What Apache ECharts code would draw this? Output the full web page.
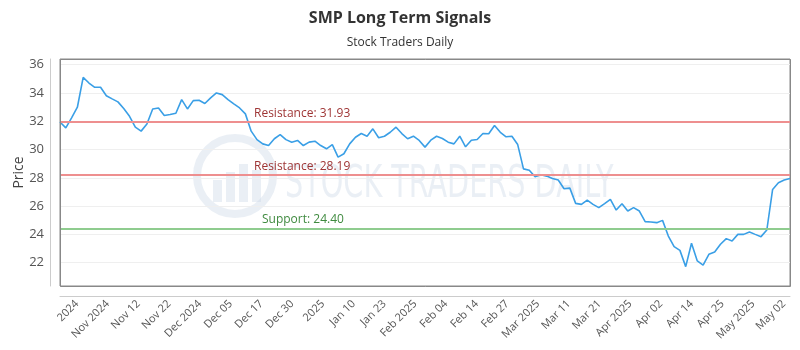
<!DOCTYPE html>
<html>
<head>
<meta charset="utf-8">
<script src="https://cdn.jsdelivr.net/npm/echarts@6/dist/echarts.min.js"></script>
<style>html,body{margin:0;padding:0;background:#fff}#chart{width:800px;height:350px}</style>
</head>
<body>
<div id="chart"></div>
<script>
const chartTitle = 'SMP Long Term Signals';
const chartSubtitle = 'Stock Traders Daily';
const yAxisName = 'Price';

const tickLabels = ['2024','Nov 2024','Nov 12','Nov 22','Dec 2024','Dec 05','Dec 17','Dec 30','2025','Jan 10','Jan 23','Feb 2025','Feb 04','Feb 14','Feb 27','Mar 2025','Mar 11','Mar 21','Apr 2025','Apr 02','Apr 14','Apr 25','May 2025','May 02'];
const yTicks = [22, 24, 26, 28, 30, 32, 34, 36];

const prices = [
  31.95, 31.53, 32.24, 32.99, 35.1, 34.7, 34.4, 34.4, 33.8, 33.58,
  33.37, 32.9, 32.35, 31.58, 31.3, 31.8, 32.87, 32.94, 32.4, 32.47,
  32.56, 33.53, 32.87, 33.46, 33.48, 33.25, 33.65, 34.0, 33.88, 33.53,
  33.23, 32.94, 32.52, 31.3, 30.7, 30.4, 30.28, 30.76, 31.06, 30.7,
  30.52, 30.64, 30.28, 30.52, 30.59, 30.28, 30.05, 30.35, 29.46, 29.7,
  30.4, 30.87, 31.13, 30.94, 31.46, 30.83, 30.94, 31.22, 31.58, 31.13,
  30.76, 30.94, 30.64, 30.17, 30.66, 30.94, 30.78, 30.52, 30.4, 30.94,
  30.19, 30.66, 30.71, 31.13, 31.11, 31.7, 31.22, 30.9, 30.94, 30.35,
  28.63, 28.54, 28.07, 28.21, 28.12, 27.95, 27.84, 27.23, 27.27, 26.19,
  26.12, 26.42, 26.12, 25.89, 26.17, 26.47, 25.72, 26.17, 25.65, 25.89,
  25.65, 24.9, 24.87, 24.83, 24.99, 23.88, 23.13, 22.87, 21.72, 23.37,
  22.12, 21.82, 22.59, 22.75, 23.3, 23.7, 23.53, 24.0, 24.0, 24.17,
  24.0, 23.84, 24.31, 27.18, 27.65, 27.84, 27.95
];
const categories = prices.map((_, i) => 'Day ' + (i + 1));

const resistanceLevels = [31.93, 28.19];
const supportLevels = [24.40];

const Y_MIN = 20.35, Y_MAX = 36.4;

const chart = echarts.init(document.getElementById('chart'), null, {renderer: 'canvas'});

const markData = [
  ...resistanceLevels.map(v => ({
    yAxis: v,
    lineStyle: {color: '#ee8f8f', width: 2, type: 'solid'},
    label: {formatter: 'Resistance: ' + v.toFixed(2), color: '#9e3434', padding: [0, 0, 0, 191]}
  })),
  ...supportLevels.map(v => ({
    yAxis: v,
    lineStyle: {color: '#8fcc8f', width: 2, type: 'solid'},
    label: {formatter: 'Support: ' + v.toFixed(2), color: '#3f8a3f', padding: [0, 0, 0, 199]}
  }))
];

const wm = 'rgba(200,212,228,0.38)';
const option = {
  animation: false,
  backgroundColor: '#fff',
  title: [
    {text: chartTitle, left: 'center', top: 5,
     textStyle: {fontSize: 16, fontWeight: 'bold', color: '#333', fontFamily: 'Open Sans'}},
    {text: chartSubtitle, left: 'center', top: 32,
     textStyle: {fontSize: 12, fontWeight: 'normal', color: '#333', fontFamily: 'Open Sans'}}
  ],
  graphic: [
    {id: 'wm-ring', type: 'circle', z: 0, shape: {cx: 235, cy: 176, r: 38},
     style: {fill: 'none', stroke: wm, lineWidth: 8}},
    {id: 'wm-b1', type: 'rect', z: 0, shape: {x: 213, y: 180, width: 9, height: 22}, style: {fill: wm}},
    {id: 'wm-b2', type: 'rect', z: 0, shape: {x: 226, y: 172, width: 9, height: 30}, style: {fill: wm}},
    {id: 'wm-b3', type: 'rect', z: 0, shape: {x: 239, y: 164, width: 9, height: 38}, style: {fill: wm}},
    {id: 'wm-b4', type: 'rect', z: 0, shape: {x: 252, y: 170, width: 9, height: 32}, style: {fill: wm}},
    {id: 'wm-text', type: 'text', z: 0, x: 285, y: 186, scaleX: 0.725, scaleY: 1,
     style: {text: 'STOCK TRADERS DAILY', x: 0, y: 0,
      fill: wm, font: '44px "DejaVu Sans Condensed"', textVerticalAlign: 'middle'}}
  ],
  grid: {left: 60, right: 10, top: 59, bottom: 64, show: true, borderColor: '#888', borderWidth: 1,
         backgroundColor: 'rgba(255,255,255,0)', containLabel: false, outerBoundsMode: 'none'},
  xAxis: [
    {type: 'category', data: categories, boundaryGap: false,
     axisLine: {show: false}, axisTick: {show: false}, axisLabel: {show: false}, splitLine: {show: false}},
    {type: 'value', position: 'bottom', min: -0.553, max: 23.195, offset: 10,
     axisLine: {show: true, onZero: false, lineStyle: {color: '#ccc'}}, axisTick: {show: false}, splitLine: {show: false},
     axisLabel: {customValues: tickLabels.map((_, i) => i), formatter: v => tickLabels[Math.round(v)] || '',
       rotate: 45, margin: 6, fontSize: 11, color: '#555', fontFamily: 'Open Sans'}}
  ],
  yAxis: {
    type: 'value', min: Y_MIN, max: Y_MAX, offset: 10,
    name: yAxisName, nameLocation: 'middle', nameGap: 24, nameMoveOverlap: false,
    nameTextStyle: {fontSize: 14, color: '#444', fontFamily: 'Open Sans'},
    axisLine: {show: true, onZero: false, lineStyle: {color: '#ccc'}},
    axisTick: {show: false, customValues: yTicks},
    axisLabel: {customValues: yTicks, margin: 6, fontSize: 13, color: '#555', fontFamily: 'Open Sans'},
    splitLine: {show: true, lineStyle: {color: '#efefef'}}
  },
  series: [{
    type: 'line', data: prices, xAxisIndex: 0, yAxisIndex: 0,
    symbol: 'none', smooth: false, z: 3,
    lineStyle: {color: '#3a9fe6', width: 1.6},
    markLine: {
      silent: true, symbol: 'none', animation: false,
      label: {position: 'insideStartTop', distance: 3, fontSize: 12, fontFamily: 'Open Sans'},
      data: markData
    }
  }]
};
chart.setOption(option);

// plot frame, placed from the chart's own axis scales
const tl = chart.convertToPixel({xAxisIndex: 0, yAxisIndex: 0}, [0, Y_MAX]);
const br = chart.convertToPixel({xAxisIndex: 0, yAxisIndex: 0}, [prices.length - 1, Y_MIN]);
if (tl && br && isFinite(tl[0]) && isFinite(br[1])) {
  chart.setOption({
    graphic: [{
      id: 'frame', type: 'rect', z: 10, silent: true,
      shape: {x: Math.round(tl[0]) + 0.5, y: Math.round(tl[1]) + 0.5,
              width: Math.round(br[0] - tl[0]), height: Math.round(br[1] - tl[1])},
      style: {fill: 'none', stroke: '#888', lineWidth: 1}
    }]
  });
}
</script>
</body>
</html>
